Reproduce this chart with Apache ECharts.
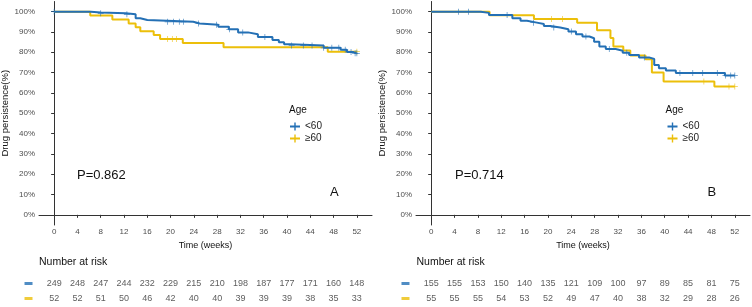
<!DOCTYPE html>
<html>
<head>
<meta charset="utf-8">
<script src="https://cdn.jsdelivr.net/npm/echarts@6/dist/echarts.min.js"></script>
<style>
  html, body { margin: 0; padding: 0; background: #fff; }
  #chart { width: 752px; height: 307px; }
</style>
</head>
<body>
<div id="chart"></div>
<script>
// time points of the risk table / x ticks
const weeks = [0, 4, 8, 12, 16, 20, 24, 28, 32, 36, 40, 44, 48, 52];
const pctTicks = [0, 10, 20, 30, 40, 50, 60, 70, 80, 90, 100];
const groups = ['<60', '≥60'];

// panel A - Kaplan-Meier steps (weeks, %)
const aLtTime = [0, 6.3, 8, 12.3, 14, 14.8, 16, 23.9, 25, 28.2, 30, 31.6, 33.3, 35, 37.5, 38.6, 39.5, 40.5, 46.3, 49.2, 50.3, 51.5, 52];
const aLtSurv = [100, 99.6, 99.2, 98.7, 96.8, 95.9, 95.0, 94.2, 93.6, 92.6, 91.3, 89.8, 88.9, 87.5, 86.1, 85.0, 84.0, 83.4, 82.2, 81.2, 80.2, 79.5, 79.5];
const aGeTime = [0, 6.2, 10, 12.8, 14, 14.8, 17.1, 18.2, 22.1, 29.1, 47, 52];
const aGeSurv = [100, 98.1, 96.2, 94.2, 92.3, 90.4, 88.5, 86.5, 84.6, 82.5, 80.3, 80.3];
const aLtCensor = [0, 8, 12.5, 19.5, 20.5, 21.5, 22.2, 24.8, 27.9, 30.1, 32.4, 36.2, 40.8, 42.8, 44.3, 46.3, 47.7, 48.9, 50, 51, 51.7, 52];
const aGeCensor = [19.5, 20.3, 21, 52];
const aLtRisk = [249, 248, 247, 244, 232, 229, 215, 210, 198, 187, 177, 171, 160, 148];
const aGeRisk = [52, 52, 51, 50, 46, 42, 40, 40, 39, 39, 39, 38, 35, 33];

// panel B
const bLtTime = [0, 8.5, 9.9, 13.9, 15.3, 16.4, 18.1, 19.3, 20.4, 22.1, 23.5, 24.8, 25.9, 27.1, 27.9, 28.8, 29.9, 31.6, 32.8, 33.9, 35.6, 37.3, 38.2, 39, 40.2, 41.9, 50.3, 52];
const bLtSurv = [100, 99.4, 98.4, 96.8, 95.5, 94.6, 93.9, 92.9, 92.2, 91.3, 90.2, 88.9, 87.8, 86.9, 85.2, 82.8, 81.6, 80.8, 79.8, 78.7, 77.5, 76.7, 73.8, 72.1, 71.0, 69.8, 68.6, 68.6];
const bGeTime = [0, 10, 17.6, 25, 28.4, 30.7, 31.2, 32.9, 34.1, 36.7, 37.8, 39.8, 48.5, 52];
const bGeSurv = [100, 98.2, 96.4, 94.5, 90.8, 87.0, 82.8, 80.9, 78.4, 76.6, 70.0, 65.6, 63.2, 63.2];
const bLtCensor = [4.7, 6.4, 13, 17.5, 21, 24, 26.5, 30.5, 33.5, 36.5, 42.6, 44.8, 46.5, 49, 50.4, 51.3, 52];
const bGeCensor = [20.6, 22.5, 46.7, 51, 52];
const bLtRisk = [155, 155, 153, 150, 140, 135, 121, 109, 100, 97, 89, 85, 81, 75];
const bGeRisk = [55, 55, 55, 54, 53, 52, 49, 47, 40, 38, 32, 29, 28, 26];

const BLUE = '#2470B5';
const YELLOW = '#ECBF0A';
const FONT = "'Liberation Sans', Arial, sans-serif";
const plusIcon = 'path://M0,4.4H10V5.6H0Z M4.4,0H5.6V10H4.4Z';
const legendIcon = 'path://M0,4H10V6H0Z M4.3,1H5.7V9H4.3Z';

function survAt(times, surv, t) {
  let v = surv[0];
  for (let i = 0; i < times.length; i++) {
    if (times[i] <= t) v = surv[i];
  }
  return v;
}

const chart = echarts.init(document.getElementById('chart'));

function panelAxes(left, width) {
  const grids = [
    { left: left, width: width, top: 1.5, height: 223.5, outerBoundsMode: 'none' },
    { left: left, width: width, top: 276, height: 30, outerBoundsMode: 'none' }
  ];
  const xAxes = [
    {
      type: 'value', min: -2.6, max: 54.6,
      axisLine: { show: true, lineStyle: { color: '#333', width: 1 } },
      axisTick: { show: true, length: 3, lineStyle: { color: '#333' }, customValues: weeks },
      axisLabel: { color: '#4d4d4d', fontSize: 8, margin: 3, customValues: weeks },
      splitLine: { show: false },
      name: 'Time (weeks)', nameLocation: 'middle', nameGap: 12,
      nameTextStyle: { color: '#111', fontSize: 9 }
    },
    { type: 'value', min: -2.6, max: 54.6, show: false }
  ];
  const yAxes = [
    {
      type: 'value', min: -5, max: 105,
      axisLine: { show: true, lineStyle: { color: '#333', width: 1 } },
      axisTick: { show: true, length: 3, lineStyle: { color: '#333' }, customValues: pctTicks },
      axisLabel: { color: '#4d4d4d', fontSize: 8, margin: 4, customValues: pctTicks, formatter: '{value}%' },
      splitLine: { show: false },
      name: 'Drug persistence(%)', nameLocation: 'middle', nameGap: 25,
      nameTextStyle: { color: '#111', fontSize: 9.5 }
    },
    { type: 'category', data: ['≥60', '<60'], show: false }
  ];
  return { grids, xAxes, yAxes };
}

function kmSeries(name, color, times, surv, censor, axisIdx) {
  return [
    {
      name: name, type: 'line', step: 'end', showSymbol: false,
      xAxisIndex: axisIdx, yAxisIndex: axisIdx,
      lineStyle: { color: color, width: 2 }, itemStyle: { color: color },
      data: times.map((t, i) => [t, surv[i]]),
      z: name === '<60' ? 3 : 2
    },
    {
      name: name, type: 'scatter', symbol: plusIcon, symbolSize: 6,
      xAxisIndex: axisIdx, yAxisIndex: axisIdx,
      itemStyle: { color: color },
      data: censor.map(t => [t, survAt(times, surv, t)]),
      z: 4
    }
  ];
}

function riskSeries(rows, axisIdx) {
  return {
    type: 'scatter', symbolSize: 1,
    xAxisIndex: axisIdx, yAxisIndex: axisIdx,
    itemStyle: { color: 'transparent' },
    label: { show: true, position: 'inside', color: '#333', fontSize: 9, formatter: p => p.value[2] },
    data: rows
  };
}

// coloured dash in front of each risk row, placed on the row's category
function riskKeys(axisIdx) {
  return {
    type: 'scatter', symbol: 'rect', symbolSize: [8, 3],
    xAxisIndex: axisIdx, yAxisIndex: axisIdx,
    data: groups.map(g => ({ value: [-4.4, g], itemStyle: { color: g === '<60' ? BLUE : YELLOW } })),
    clip: false
  };
}

function riskRows(lt, ge) {
  const rows = [];
  weeks.forEach((w, i) => {
    rows.push([w, '<60', lt[i]]);
    rows.push([w, '≥60', ge[i]]);
  });
  return rows;
}

const pA = panelAxes(39, 333);
const pB = panelAxes(416, 334);

function legendAt(left) {
  return {
    left: left, top: 120.5, orient: 'vertical', padding: 0,
    itemWidth: 10, itemHeight: 8, itemGap: 0,
    data: groups.map(g => ({ name: g, icon: legendIcon })),
    textStyle: { color: '#222', fontSize: 10, lineHeight: 12 }
  };
}

function label(x, y, text, size) {
  return {
    type: 'text', x: x, y: y,
    style: { text: text, fill: '#111', font: size + 'px ' + FONT, verticalAlign: 'middle' }
  };
}

const option = {
  animation: false,
  textStyle: { fontFamily: FONT },
  grid: pA.grids.concat(pB.grids),
  xAxis: pA.xAxes.map((a, i) => Object.assign({ gridIndex: i }, a))
    .concat(pB.xAxes.map((a, i) => Object.assign({ gridIndex: i + 2 }, a))),
  yAxis: pA.yAxes.map((a, i) => Object.assign({ gridIndex: i }, a))
    .concat(pB.yAxes.map((a, i) => Object.assign({ gridIndex: i + 2 }, a))),
  legend: [legendAt(290), legendAt(667.5)],
  series: [].concat(
    kmSeries('≥60', YELLOW, aGeTime, aGeSurv, aGeCensor, 0),
    kmSeries('<60', BLUE, aLtTime, aLtSurv, aLtCensor, 0),
    [riskSeries(riskRows(aLtRisk, aGeRisk), 1), riskKeys(1)],
    kmSeries('≥60', YELLOW, bGeTime, bGeSurv, bGeCensor, 2),
    kmSeries('<60', BLUE, bLtTime, bLtSurv, bLtCensor, 2),
    [riskSeries(riskRows(bLtRisk, bGeRisk), 3), riskKeys(3)]
  ),
  graphic: [
    label(289, 110, 'Age', 10),
    label(665.5, 110, 'Age', 10),
    label(77, 175, 'P=0.862', 13),
    label(455, 175, 'P=0.714', 13),
    label(330, 192.5, 'A', 13),
    label(707.5, 192.5, 'B', 13),
    label(39, 262, 'Number at risk', 10.5),
    label(416.5, 262, 'Number at risk', 10.5)
  ]
};

chart.setOption(option);
window.addEventListener('resize', function() {
  chart.resize();
});
</script>
</body>
</html>
